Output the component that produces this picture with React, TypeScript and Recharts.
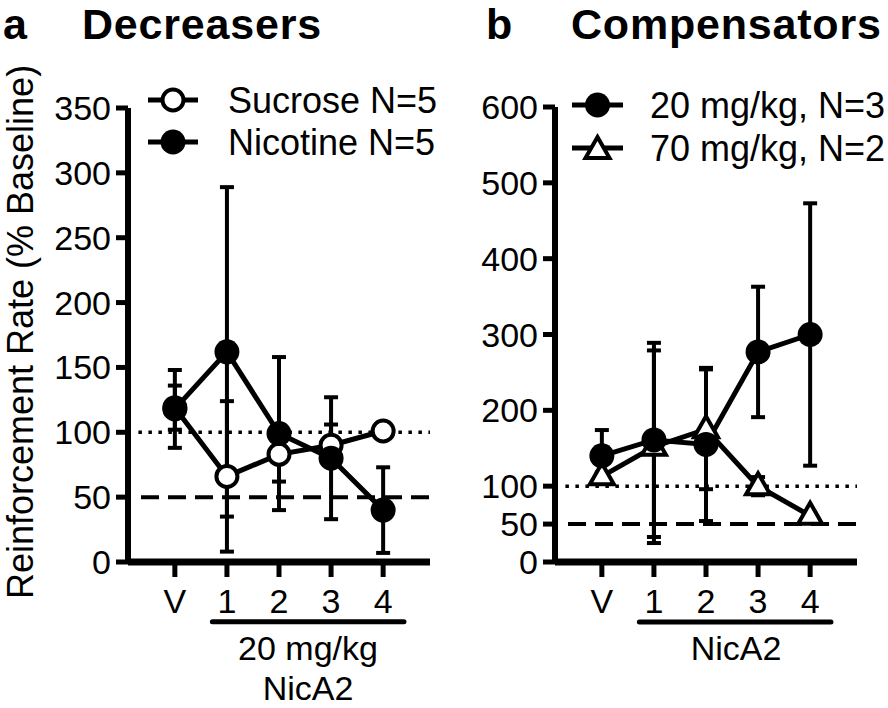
import { LineChart, Line, XAxis, YAxis, ErrorBar, ReferenceLine } from "recharts";

// doses on the x axis (V = vehicle)
const doseIdx = [0, 1, 2, 3, 4];
const doseLabels = ["V", "1", "2", "3", "4"];

// panel a - decreasers
const sucrose = [119, 66, 83, 90, 101];
const sucroseSem = [17, 58, 21, 16, 3];
const nicotine = [118, 162, 99, 80, 40];
const nicotineSem = [30, 127, 59, 47, 33];
const ticksA = [0, 50, 100, 150, 200, 250, 300, 350];

// panel b - compensators
const dose20 = [140, 161, 155, 277, 300];
const dose20Sem = [34, 128, 101, 86, 173];
const dose70 = [113, 152, 175, 100, 61];
const dose70Sem = [5, 127, 79, 12, 4];
const ticksB = [0, 50, 100, 200, 300, 400, 500, 600];

const dataA = doseIdx.map((x, i) => ({
  x,
  sucrose: sucrose[i],
  sucroseErr: sucroseSem[i],
  nicotine: nicotine[i],
  nicotineErr: nicotineSem[i],
}));

const dataB = doseIdx.map((x, i) => ({
  x,
  d20: dose20[i],
  d20Err: dose20Sem[i],
  d70: dose70[i],
  d70Err: dose70Sem[i],
}));

const FONT = "'Liberation Sans', Arial, Helvetica, sans-serif";
const tickStyle = { fill: "#000", fontSize: 34, fontFamily: FONT };

const FilledDot = (props: any) => {
  const { cx, cy, index } = props;
  if (cx == null || cy == null) return null;
  return <circle key={`f-${index}`} cx={cx} cy={cy} r={12.5} fill="#000" />;
};

const OpenDot = (props: any) => {
  const { cx, cy, index } = props;
  if (cx == null || cy == null) return null;
  return <circle key={`o-${index}`} cx={cx} cy={cy} r={10.5} fill="#fff" stroke="#000" strokeWidth={4} />;
};

const triPoints = (cx: number, cy: number) =>
  `${cx},${cy - 13} ${cx + 12},${cy + 8} ${cx - 12},${cy + 8}`;

const TriDot = (props: any) => {
  const { cx, cy, index } = props;
  if (cx == null || cy == null) return null;
  return (
    <polygon key={`t-${index}`} points={triPoints(cx, cy)} fill="#fff" stroke="#000" strokeWidth={4} />
  );
};

function Panel({
  data,
  ticks,
  top,
  right,
  yWidth,
  under,
  series,
}: {
  data: any[];
  ticks: number[];
  top: number;
  right: number;
  yWidth: number;
  under: number;
  series: { key: string; err: string; dot: any }[];
}) {
  const max = ticks[ticks.length - 1];
  return (
    <LineChart width={444} height={708} data={data} margin={{ top, right, bottom: 86, left: 0 }}>
      <ReferenceLine
        segment={[{ x: -0.7, y: 100 }, { x: 4.9, y: 100 }]}
        stroke="#000"
        strokeWidth={3.5}
        strokeDasharray="3.5 6.5"
      />
      <ReferenceLine
        segment={[{ x: -0.65, y: 50 }, { x: 4.9, y: 50 }]}
        stroke="#000"
        strokeWidth={4}
        strokeDasharray="18 9"
        ifOverflow="visible"
      />
      <ReferenceLine
        segment={[{ x: 0.72, y: under }, { x: 4.4, y: under }]}
        stroke="#000"
        strokeWidth={5}
        strokeLinecap="round"
        ifOverflow="visible"
      />
      <XAxis
        type="number"
        dataKey="x"
        domain={[-0.9, 4.9]}
        ticks={doseIdx}
        interval={0}
        tickFormatter={(v: number) => doseLabels[v]}
        height={60}
        tickSize={15}
        tickMargin={12}
        axisLine={{ stroke: "#000", strokeWidth: 7 }}
        tickLine={{ stroke: "#000", strokeWidth: 5 }}
        tick={tickStyle}
      />
      <YAxis
        type="number"
        domain={[0, max]}
        ticks={ticks}
        interval={0}
        width={yWidth}
        tickSize={12}
        tickMargin={5}
        axisLine={{ stroke: "#000", strokeWidth: 6 }}
        tickLine={{ stroke: "#000", strokeWidth: 5 }}
        tick={tickStyle}
      />
      {series.map((s) => (
        <Line
          key={s.key}
          type="linear"
          dataKey={s.key}
          stroke="#000"
          strokeWidth={5}
          dot={s.dot}
          activeDot={false}
          isAnimationActive={false}
        >
          <ErrorBar dataKey={s.err} width={7} strokeWidth={4} stroke="#000" />
        </Line>
      ))}
    </LineChart>
  );
}

const legendA = [
  { name: "Sucrose N=5", kind: "open", y: 100 },
  { name: "Nicotine N=5", kind: "filled", y: 142 },
];
const legendB = [
  { name: "20 mg/kg, N=3", kind: "filled", y: 105 },
  { name: "70 mg/kg, N=2", kind: "tri", y: 148 },
];

function LegendRows({ items, x0, x1, tx }: { items: any[]; x0: number; x1: number; tx: number }) {
  const mx = (x0 + x1) / 2;
  return (
    <g>
      {items.map((it) => (
        <g key={it.name}>
          <line x1={x0} x2={x1} y1={it.y} y2={it.y} stroke="#000" strokeWidth={5} />
          {it.kind === "open" && <circle cx={mx} cy={it.y} r={10.5} fill="#fff" stroke="#000" strokeWidth={4} />}
          {it.kind === "filled" && <circle cx={mx} cy={it.y} r={12.5} fill="#000" />}
          {it.kind === "tri" && <polygon points={triPoints(mx, it.y + 2)} fill="#fff" stroke="#000" strokeWidth={4} />}
          <text x={tx} y={it.y} dominantBaseline="central" fontSize={36} fontFamily={FONT} fill="#000">
            {it.name}
          </text>
        </g>
      ))}
    </g>
  );
}

export default function App() {
  return (
    <div style={{ position: "absolute", left: 0, top: 0, width: 888, height: 708, background: "#fff" }}>
      <div style={{ position: "absolute", left: 0, top: 0 }}>
        <Panel
          data={dataA}
          ticks={ticksA}
          top={108}
          right={14}
          yWidth={128}
          under={-46}
          series={[
            { key: "sucrose", err: "sucroseErr", dot: OpenDot },
            { key: "nicotine", err: "nicotineErr", dot: FilledDot },
          ]}
        />
      </div>
      <div style={{ position: "absolute", left: 444, top: 0 }}>
        <Panel
          data={dataB}
          ticks={ticksB}
          top={107}
          right={31}
          yWidth={111}
          under={-79}
          series={[
            { key: "d70", err: "d70Err", dot: TriDot },
            { key: "d20", err: "d20Err", dot: FilledDot },
          ]}
        />
      </div>
      <svg
        width={888}
        height={708}
        style={{ position: "absolute", left: 0, top: 0, pointerEvents: "none" }}
      >
        <g fontFamily={FONT} fill="#000">
          <text x={3} y={39} fontSize={43} fontWeight="bold">a</text>
          <text x={82} y={39} fontSize={43} fontWeight="bold" letterSpacing={0.8}>Decreasers</text>
          <text x={486} y={39} fontSize={43} fontWeight="bold">b</text>
          <text x={571} y={39} fontSize={43} fontWeight="bold" letterSpacing={0.8}>Compensators</text>
          <text
            transform="translate(20,332) rotate(-90)"
            textAnchor="middle"
            dominantBaseline="central"
            fontSize={36}
          >
            Reinforcement Rate (% Baseline)
          </text>
          <text x={308} y={648} textAnchor="middle" dominantBaseline="central" fontSize={34}>20 mg/kg</text>
          <text x={308} y={688} textAnchor="middle" dominantBaseline="central" fontSize={34}>NicA2</text>
          <text x={736} y={648} textAnchor="middle" dominantBaseline="central" fontSize={34}>NicA2</text>
        </g>
        <LegendRows items={legendA} x0={148} x1={198} tx={228} />
        <LegendRows items={legendB} x0={572} x1={623} tx={650} />
      </svg>
    </div>
  );
}
